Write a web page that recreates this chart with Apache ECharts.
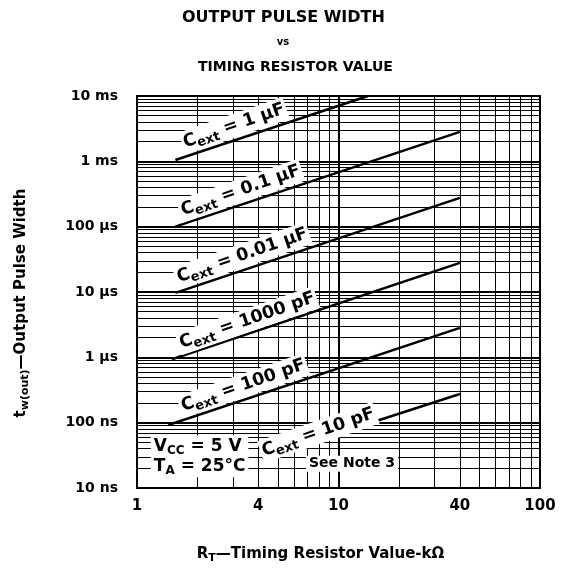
<!DOCTYPE html>
<html>
<head>
<meta charset="utf-8">
<script src="https://cdn.jsdelivr.net/npm/echarts@6/dist/echarts.min.js"></script>
<style>
  html, body { margin: 0; padding: 0; background: #fff; }
  #chart { width: 566px; height: 576px; }
</style>
</head>
<body>
<div id="chart"></div>
<script>
// R_T in kOhm, t_w(out) in ns
const capNames = ['1 µF', '0.1 µF', '0.01 µF', '1000 pF', '100 pF', '10 pF'];
const line1uF = [[1.55, 1.05e6], [14.0, 1.0e7]];
const line100nF = [[1.55, 1.0e5], [40, 2.83e6]];
const line10nF = [[1.55, 9.7e3], [40, 2.76e5]];
const line1nF = [[1.49, 935], [40, 2.79e4]];
const line100pF = [[1.43, 92], [40, 2820]];
const line10pF = [[4.17, 28.8], [40, 275]];
const lines = [line1uF, line100nF, line10nF, line1nF, line100pF, line10pF];

// where each Cext caption sits (data coords)
const captionAt = [[3.03, 3.5e6], [3.27, 3.57e5], [3.33, 3.6e4], [3.53, 3650], [3.37, 369], [7.94, 71]];

const xLabels = [1, 4, 10, 40, 100];
const yLabels = ['10 ns', '100 ns', '1 µs', '10 µs', '100 µs', '1 ms', '10 ms'];

// log grid: 1..9 in every decade
const xGrid = [];
for (let d = 1; d <= 10; d *= 10) for (let k = 1; k < 10; k++) xGrid.push(k * d);
xGrid.push(100);
const yGrid = [];
for (let d = 10; d <= 1e6; d *= 10) for (let k = 1; k < 10; k++) yGrid.push(k * d);
yGrid.push(1e7);

const FONT = 'DejaVu Sans';
const nameRich = {
  n: { fontFamily: FONT, fontWeight: 'bold', fontSize: 15, color: '#000' },
  s: { fontFamily: FONT, fontWeight: 'bold', fontSize: 11, color: '#000', padding: [8, 0, 0, 0] }
};
const capRich = {
  n: { fontFamily: FONT, fontWeight: 'bold', fontSize: 17.5, color: '#000' },
  s: { fontFamily: FONT, fontWeight: 'bold', fontSize: 13, color: '#000', padding: [10, 0, 0, 0] }
};

const chart = echarts.init(document.getElementById('chart'));

const series = lines.map((pts, i) => ({
  type: 'line',
  name: capNames[i],
  data: pts,
  symbol: 'none',
  lineStyle: { color: '#000', width: 2.5 },
  z: 3,
  markPoint: {
    symbol: 'rect',
    symbolSize: 1,
    itemStyle: { color: 'rgba(0,0,0,0)' },
    silent: true,
    data: [{
      coord: captionAt[i],
      label: {
        show: true,
        position: 'inside',
        rotate: 19,
        backgroundColor: '#fff',
        padding: [0, 2, 0, 2],
        formatter: '{n|C}{s|ext}{n| = ' + capNames[i] + '}',
        rich: capRich
      }
    }]
  }
}));

// conditions and note
series.push({
  type: 'scatter',
  data: [],
  markPoint: {
    symbol: 'rect',
    symbolSize: 1,
    itemStyle: { color: 'rgba(0,0,0,0)' },
    silent: true,
    data: [
      {
        coord: [1.1, 30.5],
        label: {
          show: true, position: 'right', backgroundColor: '#fff', padding: [1, 3, 1, 3],
          formatter: '{n|V}{s|CC}{n| = 5 V}\n{n|T}{s|A}{n| = 25°C}',
          rich: {
            n: { fontFamily: FONT, fontWeight: 'bold', fontSize: 17, color: '#000', lineHeight: 20 },
            s: { fontFamily: FONT, fontWeight: 'bold', fontSize: 12, color: '#000', padding: [9, 0, 0, 0], lineHeight: 20 }
          }
        }
      },
      {
        coord: [11.67, 23.5],
        label: {
          show: true, position: 'inside', backgroundColor: '#fff', padding: [1, 3, 1, 3],
          formatter: 'See Note 3',
          fontFamily: FONT, fontWeight: 'bold', fontSize: 14, color: '#000'
        }
      }
    ]
  }
});

const option = {
  animation: false,
  backgroundColor: '#fff',
  title: [
    { text: 'OUTPUT PULSE WIDTH', left: 177, top: 5,
      textStyle: { fontFamily: FONT, fontWeight: 'bold', fontSize: 16, color: '#000' } },
    { text: 'vs', left: 'center', top: 32,
      textStyle: { fontFamily: FONT, fontWeight: 'bold', fontSize: 10, color: '#000' } },
    { text: 'TIMING RESISTOR VALUE', left: 193, top: 55,
      textStyle: { fontFamily: FONT, fontWeight: 'bold', fontSize: 14, color: '#000' } }
  ],
  grid: {
    left: 137, right: 26, top: 96, bottom: 88,
    show: true, borderColor: '#000', borderWidth: 2, backgroundColor: 'transparent'
  },
  xAxis: [
    {
      type: 'log', logBase: 10, min: 1, max: 100,
      name: '{n|R}{s|T}{n|—Timing Resistor Value-kΩ}',
      nameLocation: 'middle', nameGap: 57,
      nameTextStyle: { rich: nameRich, padding: [0, 36, 0, 0] },
      axisLine: { show: false },
      axisTick: { show: false, customValues: xGrid },
      splitLine: { show: true, lineStyle: { color: '#000', width: 1 } },
      axisLabel: {
        customValues: xLabels, margin: 11,
        fontFamily: FONT, fontWeight: 'bold', fontSize: 15, color: '#000',
        formatter: v => String(Math.round(v))
      }
    },
    {
      type: 'log', logBase: 10, min: 1, max: 100, position: 'bottom',
      axisLine: { show: false }, axisTick: { show: false }, axisLabel: { show: false },
      splitLine: { show: true, lineStyle: { color: '#000', width: 2 } }
    }
  ],
  yAxis: [
    {
      type: 'log', logBase: 10, min: 10, max: 1e7,
      name: '{n|t}{s|w(out)}{n|—Output Pulse Width}',
      nameLocation: 'middle', nameGap: 106, nameRotate: 90,
      nameTextStyle: { rich: nameRich, padding: [0, 22, 0, 0] },
      axisLine: { show: false },
      axisTick: { show: false, customValues: yGrid },
      splitLine: { show: true, lineStyle: { color: '#000', width: 1 } },
      axisLabel: {
        margin: 19,
        fontFamily: FONT, fontWeight: 'bold', fontSize: 14, color: '#000',
        formatter: v => yLabels[Math.round(Math.log10(v)) - 1]
      }
    },
    {
      type: 'log', logBase: 10, min: 10, max: 1e7, position: 'left',
      axisLine: { show: false }, axisTick: { show: false }, axisLabel: { show: false },
      splitLine: { show: true, lineStyle: { color: '#000', width: 2 } }
    }
  ],
  series: series
};

chart.setOption(option);
</script>
</body>
</html>
